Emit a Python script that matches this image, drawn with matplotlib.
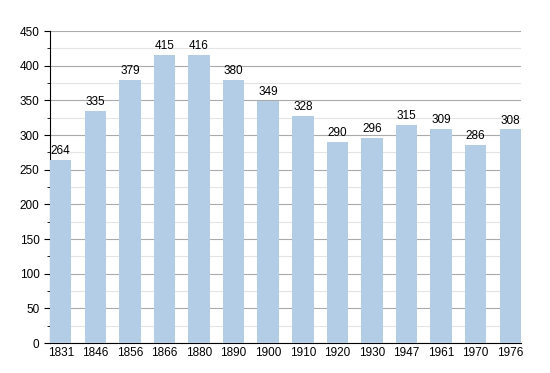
import matplotlib.pyplot as plt
from matplotlib.ticker import MultipleLocator

years = ['1831', '1846', '1856', '1866', '1880', '1890', '1900',
         '1910', '1920', '1930', '1947', '1961', '1970', '1976']
population = [264, 335, 379, 415, 416, 380, 349, 328, 290, 296, 315, 309, 286, 308]

plt.rcParams['font.family'] = ['Liberation Sans', 'DejaVu Sans']

fig = plt.figure(figsize=(5.5, 3.73), dpi=100)
ax = fig.add_axes([50 / 550, 30 / 373, 471 / 550, 312 / 373])

w = 0.62
pos = list(range(len(years)))
ax.bar(pos, population, width=w, align='edge', color='#b3cde6', zorder=3)
for x, v in zip(pos, population):
    ax.text(x + w / 2, v + 4, str(v), ha='center', va='bottom', fontsize=8.5, zorder=4)

ax.set_xlim(0, len(years) - 1 + w)
ax.set_ylim(0, 450)
ax.set_xticks([p + w / 2 for p in pos])
ax.set_xticklabels(years)
ax.yaxis.set_major_locator(MultipleLocator(50))
ax.yaxis.set_minor_locator(MultipleLocator(25))
ax.grid(axis='y', which='major', color='#aaaaaa', linewidth=0.8, zorder=1)
ax.grid(axis='y', which='minor', color='#e4e4e4', linewidth=0.8, zorder=1)
ax.tick_params(axis='x', length=0, labelsize=8.5, pad=3)
ax.tick_params(axis='y', which='major', length=4, labelsize=8.5)
ax.tick_params(axis='y', which='minor', length=2)
ax.spines['top'].set_visible(False)
ax.spines['right'].set_visible(False)

fig.savefig('out.png', dpi=100)
